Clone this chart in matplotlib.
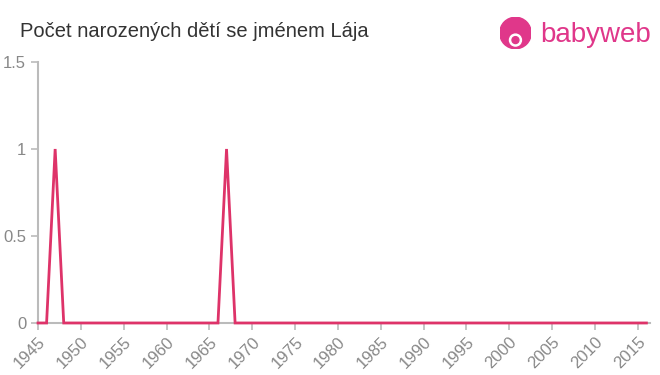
import matplotlib
matplotlib.use("Agg")
from matplotlib import pyplot as plt
from matplotlib.patches import Circle

plt.rcParams["font.family"] = ["Liberation Sans", "DejaVu Sans"]

years = list(range(1945, 2017))
counts = [0, 0, 1, 0, 0, 0, 0, 0, 0, 0,
          0, 0, 0, 0, 0, 0, 0, 0, 0, 0,
          0, 0, 1, 0, 0, 0, 0, 0, 0, 0,
          0, 0, 0, 0, 0, 0, 0, 0, 0, 0,
          0, 0, 0, 0, 0, 0, 0, 0, 0, 0,
          0, 0, 0, 0, 0, 0, 0, 0, 0, 0,
          0, 0, 0, 0, 0, 0, 0, 0, 0, 0,
          0, 0]
x_ticks = list(range(1945, 2016, 5))
y_ticks = [0, 0.5, 1, 1.5]
y_labels = ["0", "0.5", "1", "1.5"]

title = "Počet narozených dětí se jménem Lája"

fig = plt.figure(figsize=(6.6, 3.75), dpi=100)
ax = fig.add_axes([0.0576, 0.1387, 0.927, 0.696])

ax.plot(years, counts, color="#de3369", linewidth=2, solid_joinstyle="miter",
        zorder=5, clip_on=False)

ax.set_xlim(1945, 2016.4)
ax.set_ylim(0, 1.5)
ax.set_xticks(x_ticks)
ax.set_xticklabels([str(t) for t in x_ticks], rotation=45, ha="right",
                   rotation_mode="anchor")
ax.set_yticks(y_ticks)
ax.set_yticklabels(y_labels)

for side in ["top", "right"]:
    ax.spines[side].set_visible(False)
for side in ["left", "bottom"]:
    ax.spines[side].set_color("#bbbbbb")
    ax.spines[side].set_linewidth(1.5)
ax.tick_params(colors="#bbbbbb", length=5, width=1.2, labelcolor="#888888",
               labelsize=12)
ax.tick_params(axis="x", pad=3)

fig.text(0.03, 0.915, title, fontsize=14.5, color="#333333", va="center")

# logo
logo_ax = fig.add_axes([0.757, 0.87, 0.048, 0.084])
logo_ax.set_xlim(-1, 1)
logo_ax.set_ylim(-1, 1)
logo_ax.set_aspect("equal")
logo_ax.axis("off")
logo_ax.add_patch(Circle((0, 0), 1, color="#e0378a"))
logo_ax.add_patch(Circle((0, -0.45), 0.38, color="white"))
logo_ax.add_patch(Circle((0, -0.45), 0.22, color="#e0378a"))
fig.text(0.818, 0.908, "babyweb", fontsize=20, color="#e0378a", va="center")

fig.savefig("out.png", dpi=100)
